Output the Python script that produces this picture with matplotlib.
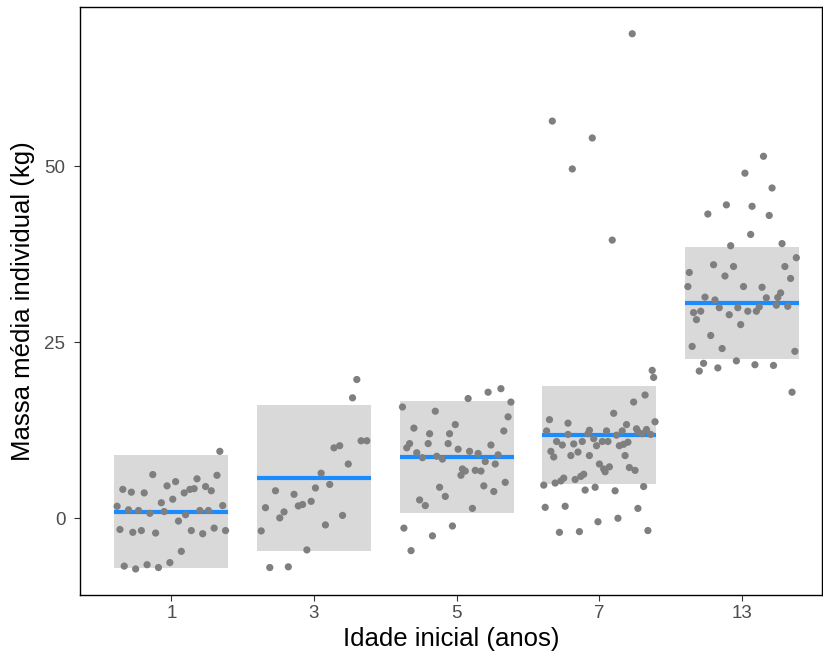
import numpy as np
import matplotlib
matplotlib.use("Agg")
import matplotlib.pyplot as plt
from matplotlib.patches import Rectangle

plt.rcParams['font.family'] = ['Liberation Sans', 'DejaVu Sans']

# categories (initial age, years)
ages = ["1", "3", "5", "7", "13"]

# mean line and shaded interval per age group
means = [0.9, 5.7, 8.7, 11.8, 30.6]
box_low = [-7.05, -4.6, 0.75, 4.9, 22.6]
box_high = [8.95, 16.05, 16.7, 18.75, 38.5]

# individual points: jitter offset (category units) and value (kg)
jit_1 = [0.34, -0.13, 0.32, -0.34, -0.28, -0.19, 0.03, -0.03, 0.18, 0.24, 0.28, 0.16, 0.13, 0.09,
         0.01, -0.07, -0.38, -0.30, -0.23, -0.15, -0.05, 0.10, 0.20, 0.26, 0.36, 0.05, -0.36, -0.27,
         -0.21, -0.11, 0.14, 0.22, 0.30, 0.38, 0.07, -0.01, -0.33, -0.25, -0.17, -0.09]
val_1 = [9.5, 6.2, 6.1, 4.1, 3.7, 3.6, 5.2, 4.6, 5.6, 4.5, 3.9, 4.2, 4.1, 3.6,
         2.7, 2.2, 1.7, 1.2, 1.1, 0.7, 0.95, 0.5, 1.1, 1.1, 1.8, -0.4, -1.6, -2.0,
         -1.75, -2.1, -1.75, -2.2, -1.4, -1.75, -4.7, -6.3, -6.8, -7.2, -6.6, -7.0]

jit_3 = [0.30, 0.27, 0.33, 0.37, 0.14, 0.18, 0.24, 0.05, 0.11, 0.01, -0.27, -0.14, -0.34, -0.11,
         -0.08, -0.02, -0.21, -0.24, 0.20, 0.08, -0.37, -0.05, -0.31, -0.18]
val_3 = [19.7, 17.1, 11.0, 11.0, 10.0, 10.3, 7.7, 6.4, 4.8, 4.3, 3.9, 3.4, 1.5, 1.75,
         1.95, 2.4, 0.9, 0.05, 0.4, -0.95, -1.8, -4.5, -7.0, -6.9]

jit_5 = [0.31, 0.22, 0.08, 0.38, -0.38, -0.15, 0.36, -0.01, -0.30, 0.33, -0.19, -0.05, -0.33, -0.35,
         -0.20, -0.06, 0.24, 0.01, 0.09, 0.15, -0.28, -0.24, -0.14, -0.10, 0.29, 0.20, 0.27, 0.04,
         0.06, 0.03, 0.13, 0.17, 0.34, 0.19, -0.12, 0.26, -0.08, -0.26, -0.22, 0.11, -0.37, -0.03,
         -0.17, -0.32]
val_5 = [18.4, 17.9, 17.0, 16.5, 15.8, 15.2, 14.4, 13.3, 12.8, 12.4, 12.0, 12.0, 10.6, 10.0,
         10.6, 10.6, 10.4, 9.8, 9.5, 9.2, 9.3, 8.6, 8.8, 8.4, 9.0, 8.05, 7.7, 7.0,
         6.7, 6.1, 6.8, 6.7, 5.1, 4.6, 4.4, 3.8, 3.1, 2.6, 1.8, 1.4, -1.4, -1.1,
         -2.5, -4.6]

jit_7 = [0.23, -0.33, -0.05, -0.19, 0.09, 0.37, 0.38, 0.32, 0.24, 0.10, -0.35, -0.22, 0.39, 0.19,
         -0.37, -0.07, -0.08, 0.05, 0.16, 0.12, 0.26, 0.27, 0.33, 0.30, 0.36, -0.22, -0.30, -0.26,
         -0.18, -0.12, -0.04, 0.02, 0.06, -0.02, 0.14, 0.17, 0.20, -0.34, -0.32, -0.20, -0.15, -0.07,
         0.18, 0.00, 0.03, 0.04, 0.07, 0.21, 0.25, -0.11, -0.13, -0.17, -0.25, -0.27, -0.31, -0.39,
         -0.10, -0.03, 0.11, 0.31, -0.38, -0.24, 0.27, -0.01, 0.13, -0.28, -0.14, 0.34]
val_7 = [68.8, 56.4, 54.0, 49.6, 39.5, 21.0, 20.0, 17.5, 16.5, 14.9, 14.0, 13.5, 13.7, 13.3,
         12.4, 12.5, 12.0, 12.4, 12.4, 11.8, 12.7, 12.3, 12.6, 12.0, 11.9, 11.9, 10.9, 10.4,
         10.55, 10.9, 11.3, 10.9, 10.9, 10.3, 10.3, 10.5, 10.8, 9.5, 8.7, 8.9, 9.4, 8.9,
         8.9, 7.7, 7.0, 6.6, 7.3, 7.2, 6.8, 6.25, 5.95, 5.5, 5.7, 5.3, 5.0, 4.7,
         4.0, 4.4, 3.9, 4.5, 1.55, 1.7, 1.4, -0.5, 0.0, -2.0, -1.9, -1.75]

jit_13 = [0.15, 0.02, 0.21, -0.11, 0.07, -0.24, 0.19, 0.06, -0.08, 0.28, 0.38, -0.20, -0.06, 0.30,
          -0.37, -0.12, 0.34, -0.38, 0.01, 0.14, -0.26, -0.19, 0.17, 0.27, 0.25, -0.16, -0.03, 0.12,
          0.10, 0.24, 0.32, -0.34, -0.29, -0.32, -0.09, 0.04, -0.01, -0.22, -0.35, -0.14, 0.37, -0.27,
          -0.30, -0.17, -0.04, 0.09, 0.22, 0.35]
val_13 = [51.4, 49.0, 46.9, 44.5, 44.3, 43.2, 43.0, 40.3, 38.7, 39.0, 37.0, 36.0, 35.75, 35.75,
          34.9, 34.4, 34.05, 32.9, 32.9, 32.8, 31.4, 31.0, 31.3, 32.0, 31.35, 29.9, 29.9, 30.0,
          29.4, 30.25, 30.1, 29.2, 29.4, 28.2, 28.9, 29.4, 27.5, 25.95, 24.4, 24.1, 23.7, 22.0,
          20.9, 21.35, 22.35, 21.8, 21.7, 17.9]

jitters = [jit_1, jit_3, jit_5, jit_7, jit_13]
values = [val_1, val_3, val_5, val_7, val_13]

fig = plt.figure(figsize=(8.23, 6.58), dpi=100)
ax = fig.add_axes([80 / 823, 63 / 658, 742 / 823, 588 / 658])

width = 0.8
for i in range(len(ages)):
    pos = i + 1
    ax.add_patch(Rectangle((pos - width / 2, box_low[i]), width, box_high[i] - box_low[i],
                           facecolor="#d9d9d9", edgecolor="none", zorder=1))
    ax.plot([pos - width / 2, pos + width / 2], [means[i], means[i]],
            color="#1a8cff", lw=3.0, solid_capstyle="butt", zorder=2)
    ax.scatter(pos + np.array(jitters[i]), values[i], s=27, color="#7f7f7f",
               edgecolors="none", zorder=3)

ax.set_xlim(0.36, 5.56)
ax.set_ylim(-10.9, 72.6)
ax.set_xticks(range(1, len(ages) + 1))
ax.set_xticklabels(ages)
ax.set_yticks([0, 25, 50])
ax.tick_params(axis="both", colors="#333333", labelcolor="#4d4d4d", labelsize=13.5,
               length=4.5, width=0.8, pad=3)
ax.tick_params(axis="y", pad=6)
for s in ax.spines.values():
    s.set_linewidth(1.0)
    s.set_color("black")

ax.set_xlabel("Idade inicial (anos)", fontsize=18.5, labelpad=3)
ax.set_ylabel("Massa média individual (kg)", fontsize=18.5, labelpad=7)

fig.savefig("out.png", dpi=100)
